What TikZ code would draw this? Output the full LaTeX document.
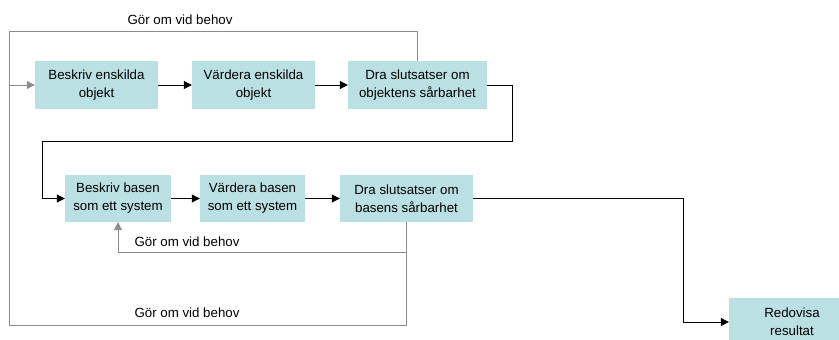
\documentclass[tikz,border=0pt]{standalone}
\usepackage{fontspec}
\setmainfont{Liberation Sans}
\usepackage{xcolor}
\definecolor{boxfill}{RGB}{187,224,227}
\definecolor{loopgray}{RGB}{140,140,140}
\usepackage{tikz}
\usetikzlibrary{arrows.meta,positioning}

\tikzset{
  stepbox/.style={fill=boxfill,align=center,inner sep=0pt,minimum height=48pt,
    font=\fontsize{13.3}{18}\selectfont},
  tip/.style={-{Triangle[length=8pt,width=8pt]}},
  flow/.style={line width=1pt,black,tip},
  back/.style={line width=1pt,loopgray},
  lbl/.style={font=\fontsize{13.3}{16}\selectfont,inner sep=0pt}
}

\begin{document}
\begin{tikzpicture}[x=1pt,y=-1pt]
  \clip (0,0) rectangle (839,340);
  \fill[white] (0,0) rectangle (839,340);

  % first row
  \node[stepbox,minimum width=123pt] (b1) at (96.5,85)  {Beskriv enskilda\\objekt};
  \node[stepbox,minimum width=123pt] (b2) at (253.5,85) {Värdera enskilda\\objekt};
  \node[stepbox,minimum width=139pt] (b3) at (417.5,85) {Dra slutsatser om\\objektens sårbarhet};

  % second row
  \node[stepbox,minimum width=106pt,minimum height=47pt] (b4) at (118,198.5) {Beskriv basen\\som ett system};
  \node[stepbox,minimum width=105pt,minimum height=47pt] (b5) at (252.5,198.5) {Värdera basen\\som ett system};
  \node[stepbox,minimum width=133pt,minimum height=47pt] (b6) at (406.5,198.5) {Dra slutsatser om\\basens sårbarhet};

  \node[stepbox,minimum width=126pt] (b7) at (792,322) {Redovisa\\resultat};

  \coordinate (lt) at (9,31);
  \coordinate (lb) at (9,325);

  % feedback loops
  \draw[back] (b3.north) |- (lt) -- (lb) -| (b6.south);
  \draw[back,tip] (lt |- b1.west) -- (b1.west);
  \draw[back,tip] (b6.south) ++(0,30) -| (b4.south);

  \node[lbl] (l1) at (180,20)  {Gör om vid behov};
  \node[lbl] (l2) at (187,242) {Gör om vid behov};
  \node[lbl] (l3) at (187,313) {Gör om vid behov};

  % main flow
  \draw[flow] (b1) -- (b2);
  \draw[flow] (b2) -- (b3);
  \draw[flow] (b3.east) -- ++(25,0) -- ++(0,56) -| ([xshift=-22pt]b4.west) -- (b4.west);
  \draw[flow] (b4) -- (b5);
  \draw[flow] (b5) -- (b6);
  \draw[flow] (b6.east) -- ++(210,0) |- (b7.west);
\end{tikzpicture}
\end{document}
